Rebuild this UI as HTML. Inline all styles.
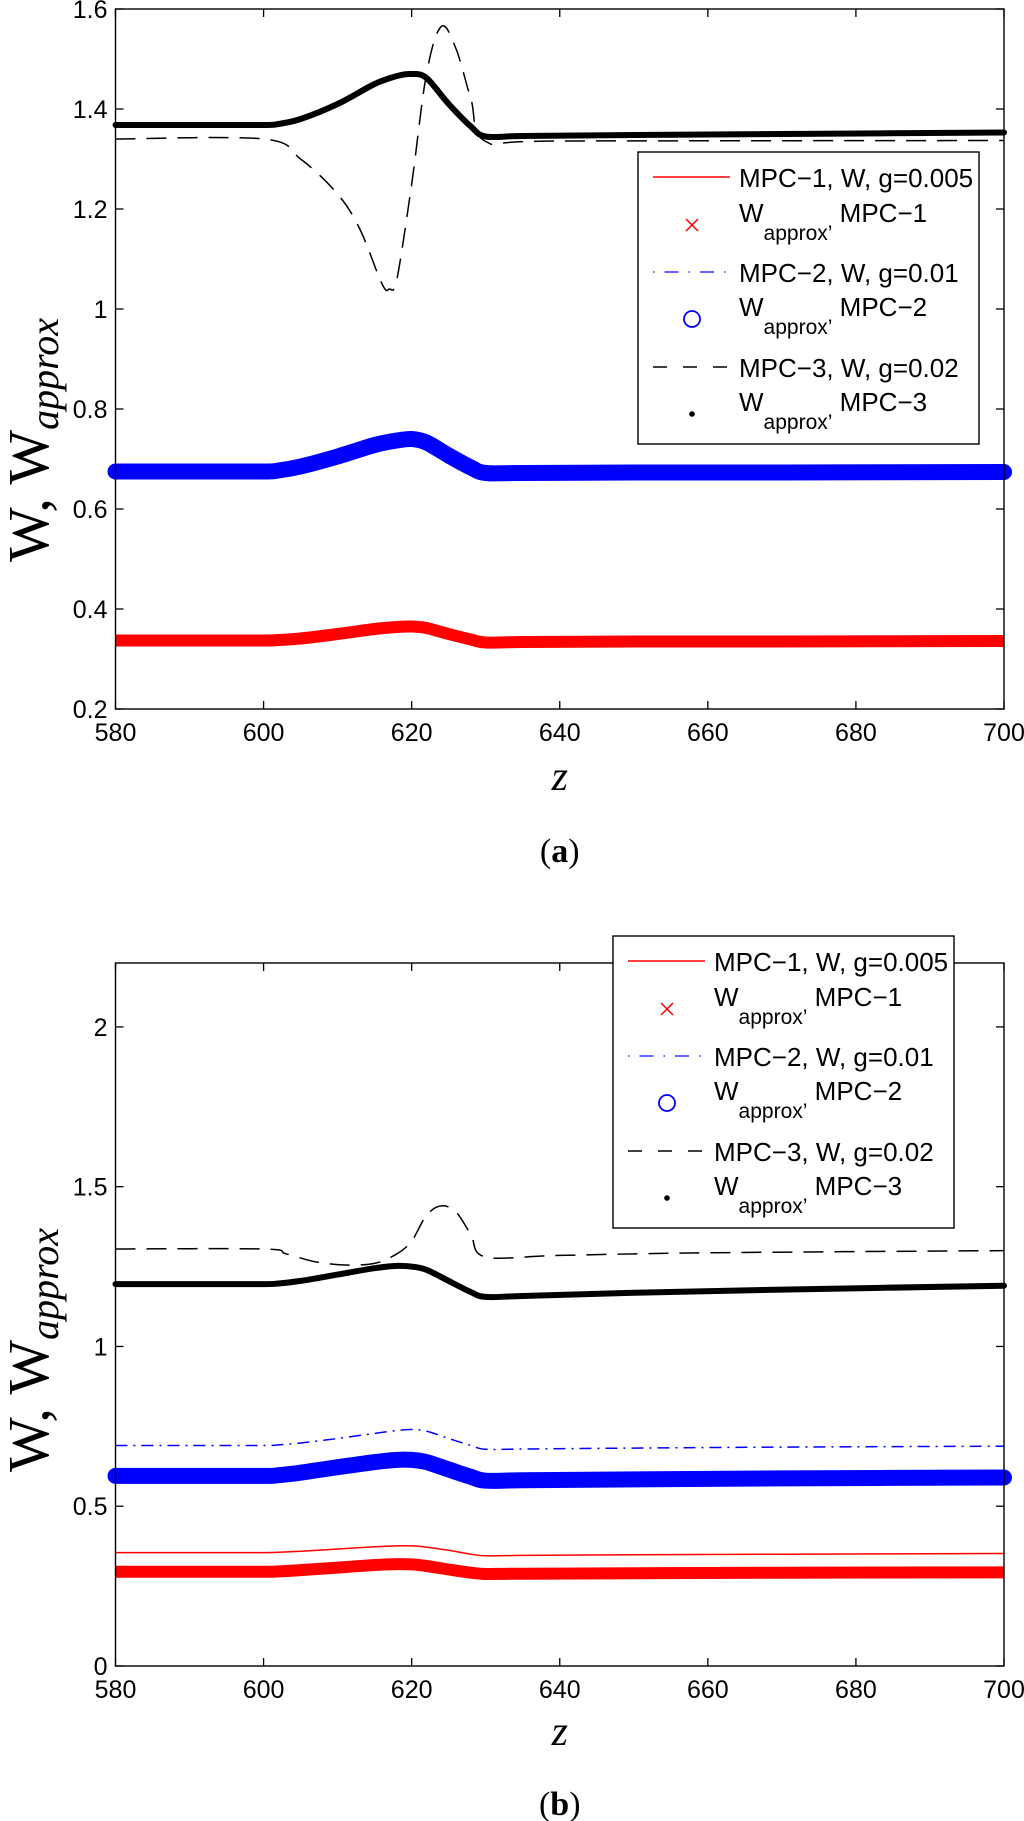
<!DOCTYPE html>
<html><head><meta charset="utf-8"><style>
body{margin:0;background:#fff;}
svg{display:block;}
.tick{font-family:"Liberation Sans",Arial,sans-serif;font-size:25px;fill:#000;}
.leg{font-family:"Liberation Sans",Arial,sans-serif;font-size:26px;fill:#000;}
.ser{font-family:"Liberation Serif","Times New Roman",serif;fill:#000;}
</style></head><body>
<svg id="fig" width="1024" height="1821" viewBox="0 0 1024 1821" xmlns="http://www.w3.org/2000/svg"></svg>
<script>
// ---------- data ----------
const zBase = [580,590,600,602,605,610,615,618,620,622,625,628,630,635,650,670,700];
// panel (a)
const aRedLine   = [0.337,0.337,0.337,0.338,0.341,0.350,0.360,0.364,0.365,0.362,0.350,0.339,0.333,0.334,0.335,0.335,0.336];
const aRedX      = [0.337,0.337,0.337,0.338,0.341,0.350,0.360,0.364,0.365,0.362,0.350,0.339,0.333,0.334,0.335,0.335,0.336];
const aBlueLine  = [0.675,0.675,0.675,0.677,0.685,0.705,0.728,0.737,0.740,0.733,0.707,0.683,0.672,0.672,0.673,0.673,0.674];
const aBlueO     = [0.675,0.675,0.675,0.677,0.685,0.705,0.728,0.737,0.740,0.733,0.707,0.683,0.672,0.672,0.673,0.673,0.674];
const aBlackDot  = [1.368,1.368,1.368,1.370,1.380,1.410,1.450,1.466,1.470,1.462,1.410,1.365,1.345,1.346,1.348,1.350,1.353];
const aDashZ     = [580,600,605,610,613,616,617,618,620,622,624,626,628,630,640,700];
const aDash      = [1.34,1.34,1.30,1.23,1.16,1.05,1.04,1.06,1.25,1.47,1.565,1.52,1.42,1.335,1.336,1.337];
// panel (b)
const bRedLine   = [0.355,0.355,0.355,0.356,0.359,0.366,0.373,0.376,0.376,0.372,0.362,0.350,0.345,0.346,0.348,0.350,0.352];
const bRedX      = [0.295,0.295,0.295,0.296,0.300,0.308,0.316,0.319,0.318,0.313,0.302,0.292,0.288,0.289,0.290,0.292,0.293];
const bBlueLine  = [0.690,0.690,0.690,0.692,0.698,0.712,0.728,0.737,0.740,0.735,0.712,0.690,0.678,0.679,0.682,0.685,0.688];
const bBlueO     = [0.595,0.595,0.595,0.597,0.605,0.622,0.638,0.645,0.645,0.638,0.615,0.592,0.580,0.581,0.584,0.587,0.590];
const bBlackDot  = [1.195,1.195,1.195,1.197,1.205,1.225,1.245,1.252,1.250,1.240,1.205,1.170,1.155,1.158,1.168,1.178,1.190];
const bDashZ     = [580,600,603,607,611,615,618,620,622,624,626,628,630,640,660,700];
const bDash      = [1.305,1.305,1.29,1.265,1.255,1.26,1.29,1.33,1.41,1.44,1.42,1.35,1.28,1.285,1.293,1.30];
// ticks
const xTicks = [580,600,620,640,660,680,700];
const aYTicks = [0.2,0.4,0.6,0.8,1,1.2,1.4,1.6];
const aYLabels = ["0.2","0.4","0.6","0.8","1","1.2","1.4","1.6"];
const bYTicks = [0,0.5,1,1.5,2];
const bYLabels = ["0","0.5","1","1.5","2"];
const legendLabels = ["MPC\u22121, W, g=0.005","MPC\u22121","MPC\u22122, W, g=0.01","MPC\u22122","MPC\u22123, W, g=0.02","MPC\u22123"];

const NS="http://www.w3.org/2000/svg";
const svg=document.getElementById('fig');
function mk(tag,attrs,parent){const e=document.createElementNS(NS,tag);for(const k in attrs)e.setAttribute(k,attrs[k]);(parent||svg).appendChild(e);return e;}

function smoothPath(pts){
  let d='M'+pts[0][0].toFixed(1)+' '+pts[0][1].toFixed(1);
  for(let i=0;i<pts.length-1;i++){
    const p0=pts[i-1]||pts[i],p1=pts[i],p2=pts[i+1],p3=pts[i+2]||p2;
    const c1=[p1[0]+(p2[0]-p0[0])/6,p1[1]+(p2[1]-p0[1])/6];
    const c2=[p2[0]-(p3[0]-p1[0])/6,p2[1]-(p3[1]-p1[1])/6];
    d+=`C${c1[0].toFixed(1)} ${c1[1].toFixed(1)} ${c2[0].toFixed(1)} ${c2[1].toFixed(1)} ${p2[0].toFixed(1)} ${p2[1].toFixed(1)}`;
  }
  return d;
}

function panel(cfg){
  const g=mk('g',{});
  
  
  const L=115.5,R=1004,T=cfg.top,B=cfg.bottom;
  const sx=v=>L+(v-580)/(700-580)*(R-L);
  const sy=v=>B-(v-cfg.ymin)/(cfg.ymax-cfg.ymin)*(B-T);
  cfg.series.forEach(s=>{
    const pts=s.z.map((z,i)=>[sx(z),sy(s.v[i])]);
    const p=mk('path',{d:smoothPath(pts),fill:'none',stroke:s.color,'stroke-width':s.w,'stroke-linecap':s.cap||'butt','stroke-linejoin':'round'},g);
    if(s.dash)p.setAttribute('stroke-dasharray',s.dash);
    
    
  });
  const fr=mk('rect',{x:L,y:T,width:R-L,height:B-T,fill:'none',stroke:'#000','stroke-width':1.4},g);
  
  
  xTicks.forEach(t=>{
    const x=sx(t);
    mk('line',{x1:x,y1:B,x2:x,y2:B-8,stroke:'#000','stroke-width':1.3},g);
    mk('line',{x1:x,y1:T,x2:x,y2:T+8,stroke:'#000','stroke-width':1.3},g);
    const tx=mk('text',{x:x,y:B+32,'text-anchor':'middle',class:'tick'},g);
    tx.textContent=t;
    
    
  });
  cfg.yt.forEach((t,i)=>{
    const y=sy(t);
    mk('line',{x1:L,y1:y,x2:L+8,y2:y,stroke:'#000','stroke-width':1.3},g);
    mk('line',{x1:R,y1:y,x2:R-8,y2:y,stroke:'#000','stroke-width':1.3},g);
    const tx=mk('text',{x:L-8,y:y+9,'text-anchor':'end',class:'tick'},g);
    tx.textContent=cfg.yl[i];
    
    
  });
  const xt=mk('text',{x:(L+R)/2,y:cfg.zY,'text-anchor':'middle',class:'ser','font-size':42,'font-style':'italic'},g);
  xt.textContent='z';
  
  
  const yt=mk('text',{transform:`translate(48,${cfg.ylY}) rotate(-90)`,'text-anchor':'middle',class:'ser','font-size':58},g);
  
  
  const t1=mk('tspan',{},yt);t1.textContent='W, W';
  const t2=mk('tspan',{'font-size':40,'font-style':'italic',dy:10},yt);t2.textContent='approx';
  const pl=mk('text',{x:(L+R)/2,y:cfg.labY,'text-anchor':'middle',class:'ser','font-size':34},g);
  
  
  const a1=mk('tspan',{},pl);a1.textContent='(';
  const a2=mk('tspan',{'font-weight':'bold'},pl);a2.textContent=cfg.letter;
  const a3=mk('tspan',{},pl);a3.textContent=')';
  const lg=cfg.leg;
  const lgG=mk('g',{},g);
  
  
  mk('rect',{x:lg.x,y:lg.y,width:lg.w,height:lg.h,fill:'#fff',stroke:'#000','stroke-width':1.4},lgG);
  const rows=[25,73,120,167,215,262];
  const lx1=lg.x+15,lx2=lg.x+92,mx=lg.x+54,tx0=lg.x+101;
  rows.forEach((dy,i)=>{
    const y=lg.y+dy;
    const e=mk('g',{},lgG);
    
    
    if(i===0)mk('line',{x1:lx1,y1:y,x2:lx2,y2:y,stroke:'#f00','stroke-width':1.5},e);
    if(i===2)mk('line',{x1:lx1,y1:y,x2:lx2,y2:y,stroke:'#33f','stroke-width':1.5,'stroke-dasharray':'1.5 10 14 10'},e);
    if(i===4)mk('line',{x1:lx1,y1:y,x2:lx2,y2:y,stroke:'#000','stroke-width':1.5,'stroke-dasharray':'14 16'},e);
    if(i===1){mk('path',{d:`M${mx-6} ${y-6}L${mx+6} ${y+6}M${mx-6} ${y+6}L${mx+6} ${y-6}`,stroke:'#f00','stroke-width':1.5},e);}
    if(i===3)mk('circle',{cx:mx,cy:y,r:8,fill:'none',stroke:'#00f','stroke-width':1.8},e);
    if(i===5)mk('circle',{cx:mx,cy:y,r:2.8,fill:'#000'},e);
    if(i%2===0){const t=mk('text',{x:tx0,y:y+10,class:'leg'},e);t.textContent=legendLabels[i];}
    else{
      const t=mk('text',{x:tx0,y:y-3,class:'leg'},e);
      const s1=mk('tspan',{},t);s1.textContent='W';
      const s2=mk('tspan',{'font-size':21,dy:18},t);s2.textContent='approx\u2019';
      const s3=mk('tspan',{dy:-18},t);s3.textContent=' '+legendLabels[i];
    }
  });
}

panel({name:'panel-a',letter:'a',top:9,bottom:709,ymin:0.2,ymax:1.6,yt:aYTicks,yl:aYLabels,zY:790,ylY:440,labY:862,
  leg:{x:638,y:152,w:341,h:292},
  series:[
    {name:'mpc1-w-line',z:zBase,v:aRedLine,color:'#f00',w:1.5},
    {name:'mpc1-w-approx',z:zBase,v:aRedX,color:'#f00',w:12},
    {name:'mpc2-w-line',z:zBase,v:aBlueLine,color:'#00f',w:1.5,dash:'12 6 2 6'},
    {name:'mpc2-w-approx',z:zBase,v:aBlueO,color:'#00f',w:16,cap:'round'},
    {name:'mpc3-w-line',z:aDashZ,v:aDash,color:'#000',w:1.5,dash:'20 11'},
    {name:'mpc3-w-approx',z:zBase,v:aBlackDot,color:'#000',w:6,cap:'round'}
  ]});
panel({name:'panel-b',letter:'b',top:963,bottom:1666,ymin:0,ymax:2.2,yt:bYTicks,yl:bYLabels,zY:1745,ylY:1350,labY:1815,
  leg:{x:613,y:936,w:341,h:292},
  series:[
    {name:'mpc1-w-line',z:zBase,v:bRedLine,color:'#f00',w:1.5},
    {name:'mpc1-w-approx',z:zBase,v:bRedX,color:'#f00',w:12},
    {name:'mpc2-w-line',z:zBase,v:bBlueLine,color:'#00f',w:1.5,dash:'12 6 2 6'},
    {name:'mpc2-w-approx',z:zBase,v:bBlueO,color:'#00f',w:16,cap:'round'},
    {name:'mpc3-w-line',z:bDashZ,v:bDash,color:'#000',w:1.5,dash:'20 11'},
    {name:'mpc3-w-approx',z:zBase,v:bBlackDot,color:'#000',w:6,cap:'round'}
  ]});
</script>
</body></html>
